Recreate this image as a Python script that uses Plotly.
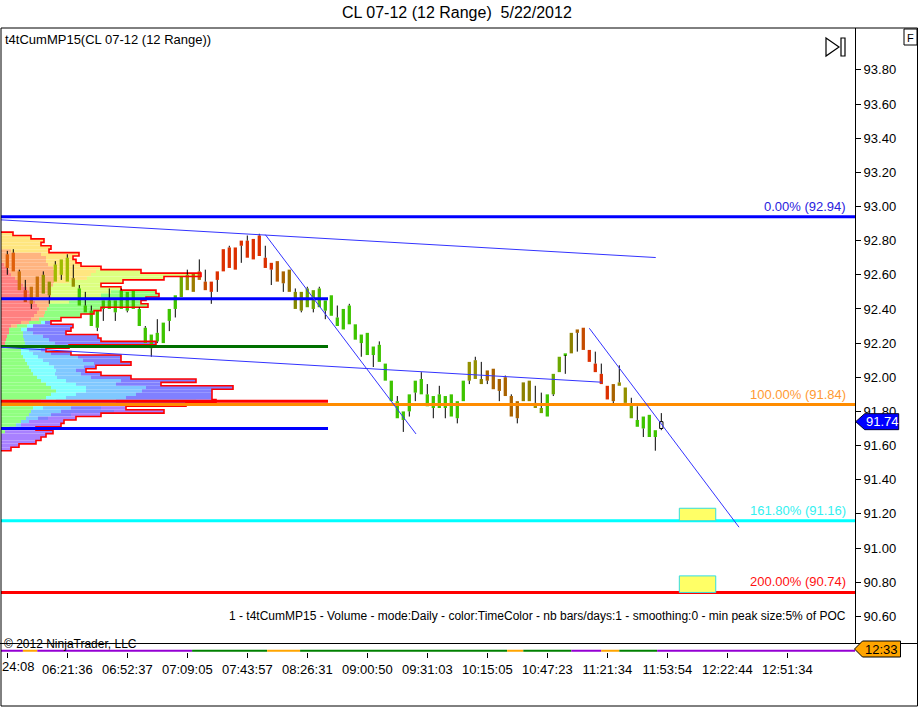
import plotly.graph_objects as go

W, H = 921, 707
FONT = "Liberation Sans, Arial, sans-serif"

# ---- CL 07-12 (12 Range) 5/22/2012 : one entry per range bar ----
opens = [92.72, 92.73, 92.62, 92.51, 92.43, 92.47, 92.60, 92.48, 92.56, 92.60,
         92.70, 92.58, 92.52, 92.42, 92.39, 92.29, 92.40, 92.45, 92.38, 92.40,
         92.50, 92.40, 92.40, 92.29, 92.25, 92.21, 92.20, 92.33, 92.40, 92.47,
         92.51, 92.50, 92.57, 92.56, 92.56, 92.57, 92.62, 92.64, 92.63, 92.77,
         92.70, 92.69, 92.71, 92.70, 92.67, 92.68, 92.55, 92.63, 92.50, 92.50,
         92.41, 92.51, 92.41, 92.45, 92.48, 92.35, 92.28, 92.31, 92.31, 92.25,
         92.26, 92.18, 92.19, 92.08, 91.98, 91.86, 91.80, 91.80, 91.91, 91.99,
         91.90, 91.82, 91.90, 91.82, 91.90, 91.86, 91.86, 91.98, 91.99, 91.99,
         91.98, 92.05, 91.99, 92.00, 91.89, 91.86, 91.86, 91.98, 91.85, 91.82,
         91.77, 91.90, 92.03, 92.13, 92.14, 92.26, 92.29, 92.16, 92.08, 92.02,
         91.95, 91.96, 91.97, 91.94, 91.84, 91.75, 91.77, 91.78, 91.69, 91.70]
highs = [92.74, 92.75, 92.63, 92.57, 92.53, 92.59, 92.62, 92.56, 92.68, 92.69,
         92.72, 92.66, 92.54, 92.50, 92.42, 92.39, 92.45, 92.52, 92.45, 92.52,
         92.50, 92.51, 92.41, 92.30, 92.25, 92.34, 92.32, 92.40, 92.48, 92.59,
         92.63, 92.61, 92.69, 92.63, 92.56, 92.62, 92.75, 92.77, 92.76, 92.80,
         92.83, 92.81, 92.84, 92.77, 92.67, 92.68, 92.62, 92.63, 92.52, 92.50,
         92.53, 92.51, 92.53, 92.45, 92.48, 92.42, 92.40, 92.43, 92.31, 92.25,
         92.26, 92.18, 92.21, 92.08, 91.98, 91.89, 91.80, 91.90, 91.98, 92.03,
         91.96, 91.89, 91.95, 91.89, 91.90, 91.86, 91.98, 92.09, 92.12, 92.09,
         92.04, 92.05, 91.99, 92.01, 91.90, 91.86, 91.97, 91.98, 91.95, 91.91,
         91.90, 92.02, 92.12, 92.14, 92.26, 92.28, 92.29, 92.16, 92.15, 92.08,
         91.95, 91.96, 92.07, 91.94, 91.88, 91.83, 91.77, 91.78, 91.69, 91.79]
lows = [92.60, 92.62, 92.51, 92.44, 92.40, 92.47, 92.49, 92.43, 92.56, 92.57,
        92.56, 92.53, 92.42, 92.38, 92.30, 92.27, 92.33, 92.40, 92.33, 92.40,
        92.38, 92.40, 92.30, 92.20, 92.12, 92.20, 92.20, 92.27, 92.35, 92.47,
        92.51, 92.50, 92.57, 92.51, 92.43, 92.50, 92.62, 92.64, 92.63, 92.67,
        92.70, 92.69, 92.71, 92.64, 92.54, 92.56, 92.50, 92.50, 92.40, 92.38,
        92.41, 92.38, 92.41, 92.34, 92.36, 92.30, 92.28, 92.31, 92.22, 92.12,
        92.13, 92.06, 92.09, 91.98, 91.86, 91.76, 91.68, 91.77, 91.86, 91.90,
        91.83, 91.76, 91.82, 91.76, 91.77, 91.73, 91.86, 91.96, 91.99, 91.96,
        91.96, 91.93, 91.86, 91.89, 91.77, 91.73, 91.86, 91.86, 91.82, 91.79,
        91.77, 91.89, 92.03, 92.02, 92.14, 92.15, 92.16, 92.09, 92.03, 91.96,
        91.87, 91.84, 91.95, 91.85, 91.76, 91.71, 91.65, 91.65, 91.57, 91.69]
closes = [92.64, 92.62, 92.51, 92.44, 92.53, 92.59, 92.49, 92.56, 92.66, 92.69,
          92.56, 92.53, 92.42, 92.38, 92.30, 92.39, 92.45, 92.40, 92.45, 92.51,
          92.39, 92.51, 92.30, 92.20, 92.17, 92.26, 92.32, 92.40, 92.48, 92.59,
          92.60, 92.61, 92.62, 92.51, 92.50, 92.62, 92.75, 92.76, 92.76, 92.80,
          92.80, 92.81, 92.83, 92.64, 92.63, 92.56, 92.62, 92.50, 92.40, 92.39,
          92.52, 92.40, 92.52, 92.39, 92.36, 92.30, 92.40, 92.42, 92.22, 92.20,
          92.13, 92.13, 92.09, 91.98, 91.86, 91.76, 91.75, 91.90, 91.98, 91.90,
          91.83, 91.89, 91.82, 91.89, 91.77, 91.76, 91.98, 92.09, 92.10, 91.96,
          92.04, 91.93, 91.92, 91.89, 91.77, 91.76, 91.97, 91.86, 91.82, 91.79,
          91.90, 92.02, 92.12, 92.14, 92.26, 92.28, 92.16, 92.09, 92.03, 91.96,
          91.87, 91.86, 91.95, 91.85, 91.76, 91.71, 91.70, 91.65, 91.65, 91.74]

OR1, OR2, RO = "#E0600A", "#CC700A", "#D84A0C"
OL, YG, GR, GO = "#949000", "#A0BC00", "#3EC400", "#6CA800"
BR, RD, RB, OB = "#A86200", "#DC3000", "#C44C00", "#8C8000"
bar_colors = ([OR1, OR1, OR2, RO, OR2, OR2, OL, OL, YG, YG, YG, OL] + [GR] * 17 +
              [GO, OL, "#9C7C00", "#B8680A", RB] + [RD] * 11 +
              ["#B85800", BR, "#987000", "#848800", "#848800", GO, GO, "#50B800"] +
              [GR] * 24 +
              [OL, OL, OB, BR, BR, BR, BR, BR, BR, OB, OB, OL, GO, GR, GO, GO, GR,
               OB, BR, RB, RD, RD, RD, RD, BR, OL, OL, GO, GR, GR, GR, GR, "#FFFFFF"])

time_tick_bars = list(range(0, 140, 10))
time_tick_labels = ["", "06:21:36", "06:52:37", "07:09:05", "07:43:57",
                    "08:26:31", "09:00:50", "09:31:03", "10:15:05", "10:47:23",
                    "11:21:34", "11:53:54", "12:22:44", "12:51:34"]
first_time_label = "24:08"   # label of bar 0, clipped by the chart edge
price_ticks = [90.6, 90.8, 91.0, 91.2, 91.4, 91.6, 91.8, 92.0, 92.2, 92.4,
               92.6, 92.8, 93.0, 93.2, 93.4, 93.6, 93.8]

# fibonacci extension levels
fib_levels = [92.94, 91.84, 91.16, 90.74]
fib_labels = ["0.00% (92.94)", "100.00% (91.84)", "161.80% (91.16)", "200.00% (90.74)"]
fib_line_colors = ["#0000FF", "#FF8C00", "#00FFFF", "#FF0000"]
fib_text_colors = ["#2A22DD", "#FF9A33", "#33F0F0", "#FF1010"]

# value area high / vwap / POC / value area low of the profile
va_levels = [92.46, 92.18, 91.86, 91.70]
va_colors = ["#0000FF", "#007000", "#FF0000", "#0000FF"]
va_end_bar = 53.45

# hand drawn trend lines: bar0, price0, bar1, price1
trend_lines = [(-1.22, 92.922, 108.07, 92.701),
               (43.0, 92.835, 68.12, 91.668),
               (-1.22, 92.176, 99.07, 91.971),
               (97.0, 92.287, 121.95, 91.122)]

# target boxes: bar0, bar1, price low, price high
target_boxes = [(112.0, 118.07, 91.16, 91.233), (112.0, 118.07, 90.74, 90.837)]

# ---- cumulative market profile (t4tCumMP15), rows of 2 ticks, top to bottom ----
profile_prices = [round(92.84 - 0.02 * k, 2) for k in range(64)]
prof_pink = [0, 0, 0, 0, 0, 0, 0, 0, 0, 3, 6, 8, 10, 14, 18, 22, 26, 28, 30, 32,
             34, 36, 38, 36, 33, 30, 20, 10, 8, 8, 6, 5, 4, 4] + [0] * 30
prof_salmon = [0, 0, 0, 0, 0, 10, 40, 45, 45, 44, 46, 47, 45, 42, 35, 30, 24, 22, 20, 18,
               14, 12, 8, 8, 10, 8, 8, 6] + [0] * 36
prof_yellow = [12, 30, 43, 40, 50, 38, 38, 27, 30, 33, 48, 40, 35, 30, 15] + [0] * 49
prof_yg = [0] * 11 + [45, 110, 77, 54, 48, 70, 60, 50, 30, 20] + [0] * 43
prof_green = ([0] * 17 + [45, 58, 65, 72, 99, 54, 49, 37, 22, 12, 10, 12, 14, 16, 18, 20,
              18, 20, 20, 22, 24, 26, 28, 30, 32, 36, 40, 45, 50, 55, 50, 45, 40, 35, 32,
              30, 28, 25, 20, 15, 8, 4] + [0] * 5)
prof_cyan = ([0] * 26 + [4, 6, 6, 0, 0, 0, 0, 10, 8, 12, 15, 18, 22, 25, 25, 22, 20, 25,
             30, 35, 30, 25, 20, 15, 10, 10] + [0] * 12)
prof_lblue = ([0] * 29 + [10, 20, 25, 30, 20, 12, 18, 40, 40, 45, 30, 20, 26, 34, 55, 40,
              60, 56, 60, 60, 60, 45, 28, 30, 22, 12, 8, 5] + [0] * 7)
prof_blue = ([0] * 26 + [6, 40, 44, 33, 55, 52, 101, 16, 5, 20, 43, 38, 37, 12, 10, 20,
             40, 75, 45, 87, 70, 76, 86, 80, 60, 30, 53, 20, 10] + [0] * 9)
prof_purple = [0] * 49 + [20, 35, 25, 50, 30, 28, 35, 40, 27, 48, 45, 40, 35, 18, 10]
profile_layers = [(prof_pink, "#FF8080"), (prof_salmon, "#FFB480"), (prof_yellow, "#FFE680"),
                  (prof_yg, "#DCFF80"), (prof_green, "#90FF80"), (prof_cyan, "#80FFFF"),
                  (prof_lblue, "#80C8FF"), (prof_blue, "#8080FF"), (prof_purple, "#A880FF")]
PROFILE_LEFT = -1.05    # left edge of the chart, in bars
PROFILE_SCALE = 1 / 6.0  # bars per volume unit
ROW_H = 0.02

# time colour strip under the chart: bar0, bar1, colour
strip_segments = [(-1.2, 2.6, "#9400D3"), (2.6, 5.0, "#FFA500"), (5.0, 30.8, "#9400D3"),
                  (30.8, 43.3, "#008000"), (43.3, 48.8, "#FFA500"), (48.8, 83.3, "#008000"),
                  (83.3, 86.0, "#FFA500"), (86.0, 94.0, "#008000"), (94.0, 99.0, "#9400D3"),
                  (99.0, 102.0, "#FFA500"), (102.0, 108.3, "#008000"), (108.3, 142.0, "#9400D3")]

last_price = 91.74
last_time = "12:33"


def px(x):
    return x / W


def py(y):
    return 1 - y / H


fig = go.Figure()

# profile (stacked by time colour)
cum = [0.0] * len(profile_prices)
for vals, color in profile_layers:
    fig.add_trace(go.Bar(
        orientation="h", y=profile_prices,
        x=[v * PROFILE_SCALE for v in vals],
        base=[PROFILE_LEFT + c * PROFILE_SCALE for c in cum],
        width=ROW_H, marker=dict(color=color, line=dict(width=0)),
        hoverinfo="skip",
    ))
    cum = [c + v for c, v in zip(cum, vals)]

# candle bodies
bars = list(range(len(opens)))
body_lo = [min(o, c) for o, c in zip(opens, closes)]
body_hi = [max(o, c) for o, c in zip(opens, closes)]
fig.add_trace(go.Bar(
    x=bars, base=body_lo, y=[max(h - l, 0.008) for h, l in zip(body_hi, body_lo)],
    width=0.55,
    marker=dict(color=bar_colors,
                line=dict(color="#000000", width=[0] * (len(bars) - 1) + [1])),
    hoverinfo="skip",
))

# profile outline
ox, oy = [PROFILE_LEFT], [profile_prices[0] + ROW_H / 2]
for p, tot in zip(profile_prices, cum):
    ox += [PROFILE_LEFT + tot * PROFILE_SCALE] * 2
    oy += [p + ROW_H / 2, p - ROW_H / 2]
ox.append(PROFILE_LEFT)
oy.append(profile_prices[-1] - ROW_H / 2)
fig.add_trace(go.Scatter(x=ox, y=oy, mode="lines", line=dict(color="#FF0000", width=1.6),
                         hoverinfo="skip"))

# wicks
wx, wy = [], []
for i in bars:
    if highs[i] > body_hi[i]:
        wx += [i, i, None]
        wy += [body_hi[i], highs[i], None]
    if lows[i] < body_lo[i]:
        wx += [i, i, None]
        wy += [lows[i], body_lo[i], None]
fig.add_trace(go.Scatter(x=wx, y=wy, mode="lines", line=dict(color="#000000", width=1),
                         hoverinfo="skip"))

# value area lines
for lvl, col in zip(va_levels, va_colors):
    fig.add_trace(go.Scatter(x=[PROFILE_LEFT, va_end_bar], y=[lvl, lvl], mode="lines",
                             line=dict(color=col, width=3), hoverinfo="skip"))

# fib lines
for lvl, col in zip(fib_levels, fib_line_colors):
    fig.add_trace(go.Scatter(x=[-3, 145], y=[lvl, lvl], mode="lines",
                             line=dict(color=col, width=3), hoverinfo="skip"))

# trend lines
for b0, p0, b1, p1 in trend_lines:
    fig.add_trace(go.Scatter(x=[b0, b1], y=[p0, p1], mode="lines",
                             line=dict(color="#3333FF", width=1), hoverinfo="skip"))

# target boxes
for b0, b1, lo, hi in target_boxes:
    fig.add_trace(go.Scatter(x=[b0, b1, b1, b0, b0], y=[lo, lo, hi, hi, lo], mode="lines",
                             fill="toself", fillcolor="#FFFF66",
                             line=dict(color="#33DDDD", width=1), hoverinfo="skip"))

# time colour strip
for b0, b1, col in strip_segments:
    fig.add_trace(go.Scatter(x=[b0, b1], y=[0.15, 0.15], mode="lines", yaxis="y2",
                             line=dict(color=col, width=2), hoverinfo="skip"))

annotations = [
    dict(x=px(457), y=py(13), text="CL 07-12 (12 Range)&nbsp; 5/22/2012",
         font=dict(size=16)),
    dict(x=px(3), y=py(40), text="t4tCumMP15(CL 07-12 (12 Range))", xanchor="left"),
    dict(x=px(848), y=py(616), xanchor="right", font=dict(size=12),
         text="1 - t4tCumMP15 - Volume - mode:Daily - color:TimeColor - nb bars/days:1 "
              "- smoothing:0 - min peak size:5% of POC"),
    dict(x=px(2), y=py(644), text="© 2012 NinjaTrader, LLC", xanchor="left", font=dict(size=12)),
    dict(x=px(910.5), y=py(37.5), text="F", font=dict(size=11)),
    dict(x=px(0), y=py(666), text=first_time_label, xanchor="left"),
    dict(x=px(882), y=last_price, yref="y", text=f"{last_price:.2f}",
         font=dict(color="#FFFFFF", size=13)),
    dict(x=px(881), y=py(649), text=last_time, font=dict(size=13)),
]
for lvl, lab, col in zip(fib_levels, fib_labels, fib_text_colors):
    annotations.append(dict(x=140.1, y=lvl, xref="x", yref="y", text=lab, xanchor="right",
                            yanchor="bottom", yshift=1, font=dict(color=col, size=13)))
for a in annotations:
    a.setdefault("xref", "paper")
    a.setdefault("yref", "paper")
    a.setdefault("showarrow", False)
    a.setdefault("xanchor", "center")
    a.setdefault("yanchor", "middle")
    f = a.setdefault("font", {})
    f.setdefault("family", FONT)
    f.setdefault("size", 13)
    f.setdefault("color", "#000000")

shapes = [
    dict(type="rect", x0=px(1), x1=px(917.5), y0=py(706), y1=py(28),
         line=dict(color="#000000", width=1)),
    dict(type="line", x0=px(0), x1=px(917.5), y0=py(643.5), y1=py(643.5),
         line=dict(color="#000000", width=1)),
    dict(type="rect", x0=px(904), x1=px(917), y0=py(45), y1=py(29),
         line=dict(color="#000000", width=1)),
    dict(type="path", path=f"M{px(826)},{py(38)} L{px(839)},{py(47)} L{px(826)},{py(56)} Z",
         line=dict(color="#000000", width=1.2)),
    dict(type="rect", x0=px(841), x1=px(845), y0=py(56), y1=py(38),
         line=dict(color="#000000", width=1.2)),
    dict(type="path", xref="paper", yref="y", xsizemode="pixel", ysizemode="pixel",
         xanchor=px(855.7), yanchor=last_price, path="M0,0 L9,8 L43,8 L43,-8 L9,-8 Z",
         fillcolor="#0000FF", line=dict(color="#000033", width=1)),
    dict(type="path", xref="paper", yref="paper", xsizemode="pixel", ysizemode="pixel",
         xanchor=px(854.5), yanchor=py(649), path="M0,0 L8,8 L46,8 L46,-8 L8,-8 Z",
         fillcolor="#FFA500", line=dict(color="#000000", width=1)),
]
for s in shapes:
    s.setdefault("xref", "paper")
    s.setdefault("yref", "paper")

fig.update_layout(
    width=W, height=H, margin=dict(l=0, r=0, t=0, b=0),
    paper_bgcolor="white", plot_bgcolor="white",
    showlegend=False, barmode="overlay", hovermode=False,
    font=dict(family=FONT, size=13, color="#000000"),
    xaxis=dict(domain=[px(1), px(855)], range=[-1.05, 141.28], anchor="y2",
               tickmode="array", tickvals=time_tick_bars, ticktext=time_tick_labels,
               ticks="outside", ticklen=5, tickcolor="#000000", showgrid=False,
               zeroline=False, showline=False, tickfont=dict(size=13)),
    yaxis=dict(domain=[py(643), py(28)], range=[90.444, 94.045], side="right", anchor="x",
               tickmode="array", tickvals=price_ticks,
               ticktext=[f"{v:.2f}" for v in price_ticks],
               ticks="outside", ticklen=5, tickcolor="#000000", showline=True,
               linecolor="#000000", linewidth=1, showgrid=False, zeroline=False,
               tickfont=dict(size=13)),
    yaxis2=dict(domain=[py(652), py(643.5)], range=[0, 1], anchor="x", visible=False),
    annotations=annotations,
    shapes=shapes,
)

# page has a default 8px body margin; remove it so the chart sits at the window origin
fig.write_html("out.html", config={"displayModeBar": False},
               post_script="document.body.style.margin='0';")
